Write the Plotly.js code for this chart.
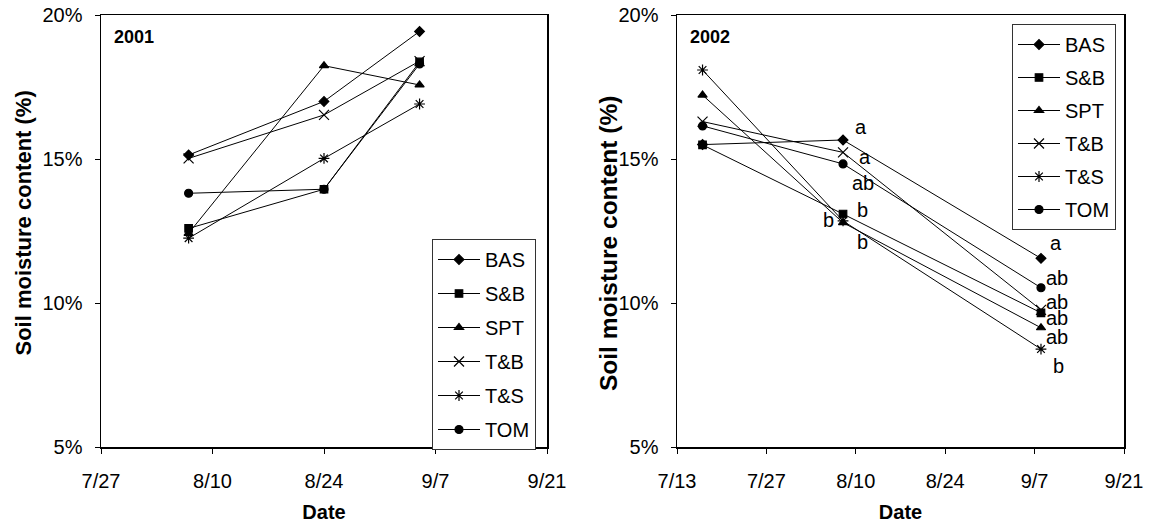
<!DOCTYPE html>
<html>
<head>
<meta charset="utf-8">
<script src="https://cdn.plot.ly/plotly-3.0.1.min.js"></script>
<style>html,body{margin:0;padding:0;background:#fff;}#chart{width:1150px;height:527px;}</style>
</head>
<body>
<div id="chart"></div>
<script>
// ---- Data ----
var treatments = ['BAS', 'S&B', 'SPT', 'T&B', 'T&S', 'TOM'];
var dates2001 = ['2001-08-07', '2001-08-24', '2001-09-05'];
var dates2002 = ['2002-07-17', '2002-08-08', '2002-09-08'];

var BAS2001 = [15.14, 17.00, 19.43];
var SB2001  = [12.59, 13.95, 18.37];
var SPT2001 = [12.42, 18.24, 17.57];
var TB2001  = [15.02, 16.53, 18.40];
var TS2001  = [12.25, 15.02, 16.91];
var TOM2001 = [13.81, 13.95, 18.30];

var BAS2002 = [15.50, 15.66, 11.55];
var SB2002  = [15.49, 13.09, 9.66];
var SPT2002 = [17.22, 12.79, 9.14];
var TB2002  = [16.30, 15.23, 9.76];
var TS2002  = [18.09, 12.85, 8.40];
var TOM2002 = [16.15, 14.83, 10.53];

var yTickVals = [5, 10, 15, 20];
var yTickText = ['5%', '10%', '15%', '20%'];
var xTicks2001 = ['2001-07-27', '2001-08-10', '2001-08-24', '2001-09-07', '2001-09-21'];
var xTickText2001 = ['7/27', '8/10', '8/24', '9/7', '9/21'];
var xTicks2002 = ['2002-07-13', '2002-07-27', '2002-08-10', '2002-08-24', '2002-09-07', '2002-09-21'];
var xTickText2002 = ['7/13', '7/27', '8/10', '8/24', '9/7', '9/21'];

var yTitle = 'Soil moisture content (%)';
var xTitle = 'Date';

// significance letters (2002)
var letterText = ['a', 'a', 'ab', 'b', 'b', 'b', 'a', 'ab', 'ab', 'ab', 'ab', 'b'];
var letterDate = ['2002-08-08', '2002-08-08', '2002-08-08', '2002-08-08', '2002-08-08', '2002-08-08',
                  '2002-09-08', '2002-09-08', '2002-09-08', '2002-09-08', '2002-09-08', '2002-09-08'];
var letterY = [16.12, 15.08, 14.17, 13.23, 12.88, 12.13, 12.08, 10.86, 10.05, 9.49, 8.81, 7.81];

// ---- Styles ----
var FONT = 'Liberation Sans, Arial, Helvetica, sans-serif';
var markers = [
  {symbol: 'diamond', size: 7.5},
  {symbol: 'square', size: 7.5},
  {symbol: 'triangle-up', size: 8},
  {symbol: 'x-thin-open', size: 10},
  {symbol: 'asterisk-open', size: 9},
  {symbol: 'circle', size: 8}
];
var letterShift = [18, 22, 20, 19, -15, 19, 15, 16, 16, 16, 16, 18];

var series2001 = [BAS2001, SB2001, SPT2001, TB2001, TS2001, TOM2001];
var series2002 = [BAS2002, SB2002, SPT2002, TB2002, TS2002, TOM2002];

var traces = [];
function mk(name, xs, ys, i, xa, ya, leg, grp) {
  return {
    type: 'scatter', mode: 'lines+markers', name: name, x: xs, y: ys,
    xaxis: xa, yaxis: ya, legend: leg, legendgroup: grp,
    line: {color: '#000', width: 1},
    marker: {symbol: markers[i].symbol, size: markers[i].size, color: '#000',
             line: {color: '#000', width: 1.2}},
    hoverinfo: 'x+y+name'
  };
}
treatments.forEach(function (t, i) {
  traces.push(mk(t, dates2001, series2001[i], i, 'x', 'y', 'legend', 'L' + i));
});
treatments.forEach(function (t, i) {
  traces.push(mk(t, dates2002, series2002[i], i, 'x2', 'y2', 'legend2', 'R' + i));
});

var yDom = [80 / 527, 512 / 527];
function yAxis(anchor) {
  return {
    domain: yDom, anchor: anchor, range: [5, 20], tickvals: yTickVals, ticktext: yTickText,
    ticks: 'outside', ticklen: 5, tickwidth: 1, tickcolor: '#000',
    showline: true, linecolor: '#000', linewidth: 1.5, mirror: true,
    showgrid: false, zeroline: false, ticklabelstandoff: 8,
    tickfont: {size: 20, color: '#000'}
  };
}
function xAxis(dom, anchor, range, tv, tt) {
  return {
    domain: dom, anchor: anchor, type: 'date', range: range, tickvals: tv, ticktext: tt,
    ticks: 'outside', ticklen: 5, tickwidth: 1, tickcolor: '#000',
    showline: true, linecolor: '#000', linewidth: 1.5, mirror: true,
    showgrid: false, zeroline: false, ticklabelstandoff: 10,
    tickfont: {size: 20, color: '#000'},
    title: {text: '<b>' + xTitle + '</b>', font: {size: 20, color: '#000'}, standoff: 14}
  };
}

var annotations = [
  {xref: 'x domain', yref: 'y domain', x: 0.024, y: 0.95, xanchor: 'left', yanchor: 'middle',
   text: '<b>2001</b>', showarrow: false, font: {size: 18, color: '#000'}},
  {xref: 'x2 domain', yref: 'y2 domain', x: 0.024, y: 0.95, xanchor: 'left', yanchor: 'middle',
   text: '<b>2002</b>', showarrow: false, font: {size: 18, color: '#000'}},
  {xref: 'paper', yref: 'paper', x: 23 / 1150, y: 1 - 223.5 / 527, xanchor: 'center', yanchor: 'middle',
   textangle: -90, text: '<b>' + yTitle + '</b>', showarrow: false, font: {size: 22, color: '#000'}},
  {xref: 'paper', yref: 'paper', x: 608 / 1150, y: 1 - 244 / 527, xanchor: 'center', yanchor: 'middle',
   textangle: -90, text: '<b>' + yTitle + '</b>', showarrow: false, font: {size: 24.5, color: '#000'}}
];
letterText.forEach(function (t, i) {
  annotations.push({xref: 'x2', yref: 'y2', x: letterDate[i], y: letterY[i], text: t,
    showarrow: false, xshift: letterShift[i], xanchor: 'center', yanchor: 'middle',
    font: {size: 20, color: '#000'}});
});

var legendBase = {
  xref: 'paper', yref: 'paper', xanchor: 'left', yanchor: 'top',
  bgcolor: '#fff', bordercolor: '#333', borderwidth: 1,
  font: {size: 20, color: '#000'}, traceorder: 'grouped', tracegroupgap: 5, itemwidth: 42
};

var layout = {
  width: 1150, height: 527,
  margin: {l: 0, r: 0, t: 0, b: 0},
  paper_bgcolor: '#fff', plot_bgcolor: '#fff',
  font: {family: FONT, color: '#000'},
  showlegend: true,
  xaxis: xAxis([101 / 1150, 547 / 1150], 'y', ['2001-07-27', '2001-09-21'], xTicks2001, xTickText2001),
  yaxis: yAxis('x'),
  xaxis2: xAxis([677 / 1150, 1124 / 1150], 'y2', ['2002-07-13', '2002-09-21'], xTicks2002, xTickText2002),
  yaxis2: yAxis('x2'),
  legend: Object.assign({}, legendBase, {x: 432 / 1150, y: 1 - 239 / 527}),
  legend2: Object.assign({}, legendBase, {x: 1012 / 1150, y: 1 - 24 / 527, tracegroupgap: 4}),
  annotations: annotations
};

Plotly.newPlot('chart', traces, layout, {displayModeBar: false, staticPlot: true});
</script>
</body>
</html>
